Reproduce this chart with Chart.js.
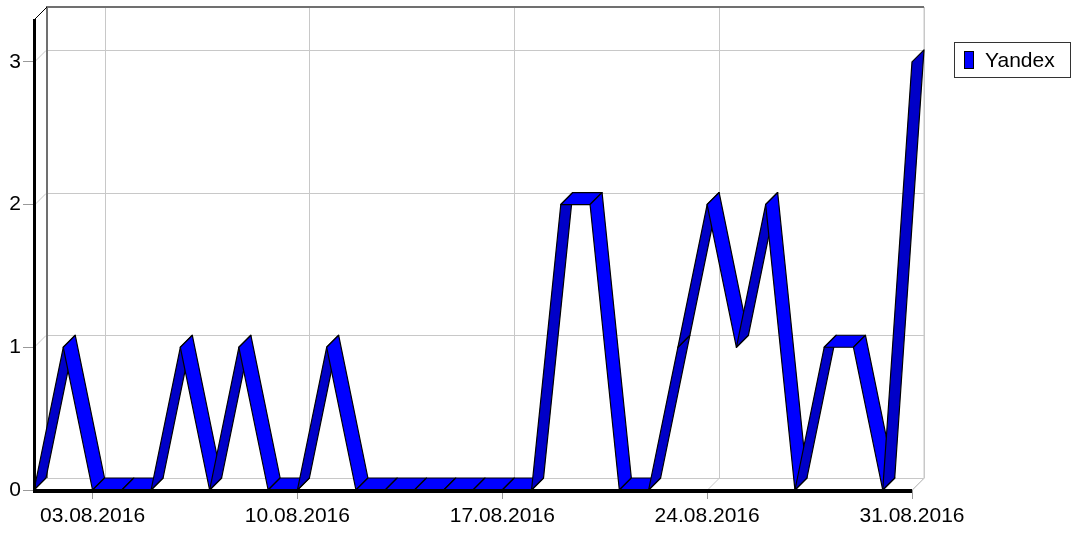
<!DOCTYPE html>
<html>
<head>
<meta charset="utf-8">
<script src="https://cdn.jsdelivr.net/npm/chart.js@4"></script>
<style>
  body { margin: 0; background: #fff; }
</style>
</head>
<body>
<canvas id="chart" width="1076" height="533"></canvas>
<script>
const days = ['01.08.2016','02.08.2016','03.08.2016','04.08.2016','05.08.2016','06.08.2016','07.08.2016',
  '08.08.2016','09.08.2016','10.08.2016','11.08.2016','12.08.2016','13.08.2016','14.08.2016',
  '15.08.2016','16.08.2016','17.08.2016','18.08.2016','19.08.2016','20.08.2016','21.08.2016',
  '22.08.2016','23.08.2016','24.08.2016','25.08.2016','26.08.2016','27.08.2016','28.08.2016',
  '29.08.2016','30.08.2016','31.08.2016']
const yandex = [0,1,0,0,0,1,0,1,0,0,1,0,0,0,0,0,0,0,2,2,0,0,1,2,1,2,0,1,1,0,3]
const shownDays = ['03.08.2016','10.08.2016','17.08.2016','24.08.2016','31.08.2016']
const yTicks = [0,1,2,3]

const font = { family: "'Liberation Sans', Arial, sans-serif", size: 21 }
const depth = { x: 12, y: -12 }
const gridColor = '#c8c8c8'
const light = '#0000ff'
const dark = '#0000c8'

// back wall, floor and left wall with their grid lines
const frame3d = {
  id: 'frame3d',
  beforeDatasetsDraw(chart) {
    const ctx = chart.ctx
    const a = chart.chartArea
    const xs = chart.scales.x
    const ys = chart.scales.y
    const dx = depth.x, dy = depth.y
    ctx.save()
    ctx.lineWidth = 1
    ctx.strokeStyle = gridColor
    ctx.beginPath()
    yTicks.forEach(v => {
      const y = Math.round(ys.getPixelForValue(v)) + 0.5
      ctx.moveTo(a.left, y)
      ctx.lineTo(a.left + dx, y + dy)
      ctx.lineTo(a.right + dx, y + dy)
    })
    shownDays.forEach(d => {
      const x = Math.round(xs.getPixelForValue(days.indexOf(d))) + 0.5
      ctx.moveTo(x, a.bottom)
      ctx.lineTo(x + dx, a.bottom + dy)
      ctx.lineTo(x + dx, a.top + dy)
    })
    // right edge of back wall and floor
    ctx.moveTo(a.right, a.bottom)
    ctx.lineTo(a.right + dx, a.bottom + dy)
    ctx.lineTo(a.right + dx, a.top + dy)
    ctx.stroke()

    // top and left edges of back wall
    ctx.strokeStyle = '#707070'
    ctx.lineWidth = 2
    ctx.beginPath()
    ctx.moveTo(a.left + dx + 1, a.bottom + dy)
    ctx.lineTo(a.left + dx + 1, a.top + dy)
    ctx.lineTo(a.right + dx, a.top + dy)
    ctx.stroke()
    ctx.strokeStyle = '#000'
    ctx.lineWidth = 1
    ctx.beginPath()
    ctx.moveTo(a.left + 1, a.top)
    ctx.lineTo(a.left + dx + 1, a.top + dy)
    ctx.stroke()
    ctx.restore()
  },
  afterDatasetsDraw(chart) {
    const ctx = chart.ctx
    const a = chart.chartArea
    const meta = chart.getDatasetMeta(0)
    const pts = meta.data
    const dx = depth.x, dy = depth.y
    ctx.save()
    ctx.lineWidth = 1.2
    ctx.lineJoin = 'round'
    ctx.strokeStyle = '#000'
    for (let i = 0; i < pts.length - 1; i++) {
      const p0 = pts[i], p1 = pts[i + 1]
      ctx.beginPath()
      ctx.moveTo(p0.x, p0.y)
      ctx.lineTo(p1.x, p1.y)
      ctx.lineTo(p1.x + dx, p1.y + dy)
      ctx.lineTo(p0.x + dx, p0.y + dy)
      ctx.closePath()
      ctx.fillStyle = p1.y < p0.y - 0.5 ? dark : light
      ctx.fill()
      ctx.stroke()
    }
    // front axes
    ctx.fillStyle = '#000'
    ctx.fillRect(a.left - 1, a.top, 3, a.bottom - a.top + 2)
    ctx.fillRect(a.left - 1, a.bottom - 1, a.right - a.left + 1, 4)
    ctx.restore()
  },
  afterDraw(chart) {
    const ctx = chart.ctx
    const ds = chart.data.datasets[0]
    ctx.save()
    ctx.fillStyle = '#fff'
    ctx.fillRect(954, 42, 116, 35)
    ctx.strokeStyle = '#333'
    ctx.lineWidth = 1
    ctx.strokeRect(954.5, 42.5, 116, 35)
    ctx.fillStyle = ds.backgroundColor
    ctx.fillRect(964, 51, 10, 18)
    ctx.strokeStyle = '#000'
    ctx.strokeRect(964.5, 51.5, 9, 17)
    ctx.fillStyle = '#000'
    ctx.font = font.size + 'px ' + font.family
    ctx.textBaseline = 'alphabetic'
    ctx.fillText(ds.label, 985, 67)
    ctx.restore()
  }
}

const chart = new Chart(document.getElementById('chart'), {
  type: 'line',
  data: {
    labels: days,
    datasets: [{
      label: 'Yandex',
      data: yandex,
      backgroundColor: light,
      borderColor: light,
      showLine: false,
      pointRadius: 0,
      pointHoverRadius: 0
    }]
  },
  options: {
    responsive: false,
    devicePixelRatio: 1,
    animation: false,
    events: [],
    layout: { padding: { top: 19, right: 164, left: 0, bottom: 0 } },
    scales: {
      x: {
        type: 'category',
        offset: false,
        border: { display: false },
        grid: {
          drawOnChartArea: false,
          tickLength: 9,
          color: c => (c.tick && shownDays.includes(days[c.index])) ? '#999' : 'rgba(0,0,0,0)'
        },
        ticks: {
          autoSkip: false,
          maxRotation: 0,
          minRotation: 0,
          padding: 5,
          color: '#000',
          font: font,
          callback: (v, i) => shownDays.includes(days[i]) ? days[i] : ''
        },
        afterFit: s => { s.height = 43 }
      },
      y: {
        min: 0,
        max: 3.3,
        border: { display: false },
        grid: { drawOnChartArea: false, tickLength: 11, color: '#999' },
        ticks: { stepSize: 1, includeBounds: false, padding: 2, color: '#000', font: font },
        afterFit: s => { s.width = 34 }
      }
    },
    plugins: {
      legend: { display: false },
      tooltip: { enabled: false }
    }
  },
  plugins: [frame3d]
})
</script>
</body>
</html>
